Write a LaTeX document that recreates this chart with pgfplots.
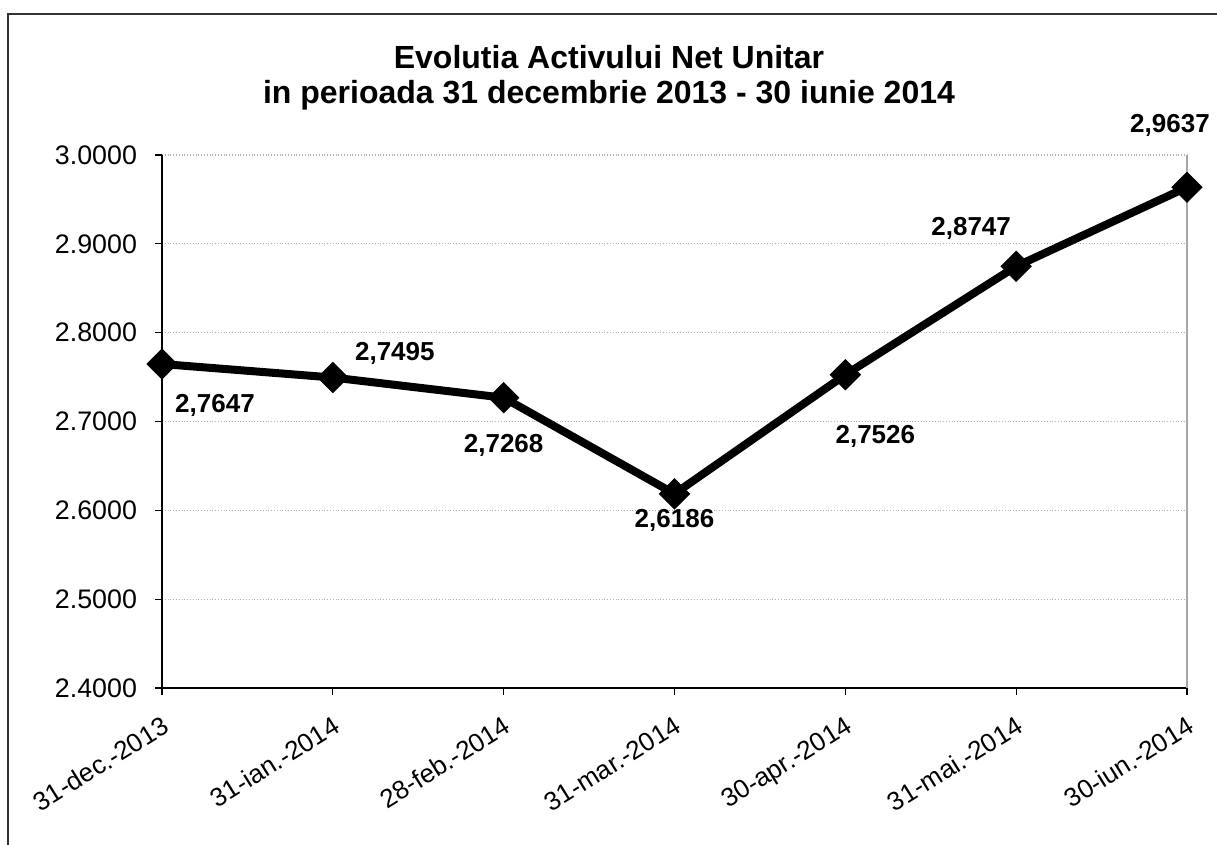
\documentclass[border=0pt]{standalone}
\usepackage{pgfplots}
\usepackage{pgfplotstable}
\pgfplotsset{compat=1.18}
\usepackage{fontspec}
\setmainfont{Liberation Sans}

\pgfplotstableread{
x y dx dy
0 2.7647 26.5 -20.5
1 2.7495 31 12
2 2.7268 0 -24
3 2.6186 0 -13.5
4 2.7526 15 -31
5 2.8747 -22.5 19
6 2.9637 -8.5 31
}\datatable

\begin{document}
\begin{tikzpicture}
\useasboundingbox (0pt,0pt) rectangle (608.5pt,422.5pt);
\draw[line width=0.6pt, black!80] (4pt,0pt) -- (4pt,415.5pt) -- (608.5pt,415.5pt);
\node[font=\fontsize{16}{17.5}\selectfont\bfseries, align=center] at (304.5pt,383.5pt)
  {Evolutia Activului Net Unitar\\in perioada 31 decembrie 2013 - 30 iunie 2014};
\begin{axis}[
  at={(81pt,78.5pt)}, anchor=south west,
  scale only axis, width=512.5pt, height=266.5pt,
  xmin=0, xmax=6, ymin=2.4, ymax=3.0,
  xtick={0,1,2,3,4,5,6},
  xticklabels={31-dec.-2013,31-ian.-2014,28-feb.-2014,31-mar.-2014,30-apr.-2014,31-mai.-2014,30-iun.-2014},
  ytick={2.4,2.5,2.6,2.7,2.8,2.9,3.0},
  /pgf/number format/assume math mode=true,
  yticklabel style={font=\fontsize{13.4}{14}\selectfont, xshift=-5.5pt, /pgf/number format/.cd, fixed, fixed zerofill, precision=4},
  xticklabel style={font=\fontsize{13}{14}\selectfont, yshift=-7pt, rotate=32, anchor=north east, inner sep=2pt},
  axis x line*=bottom, axis y line*=left,
  axis line style={black, line width=0.8pt, -},
  tick style={black, line width=0.6pt},
  tick align=outside, major tick length=3.5pt,
  ymajorgrids, grid style={gray!60, densely dotted, line width=0.6pt},
  clip=false,
]
\addplot[black, line width=4pt, mark=square*, mark size=5.3pt,
  mark options={solid, rotate=45, line width=0.5pt, fill=black},
  nodes near coords={\pgfmathprintnumber[fixed, fixed zerofill, precision=4, use comma, assume math mode=true]{\pgfplotspointmeta}},
  point meta=explicit,
  visualization depends on={\thisrow{dx} \as \dx},
  visualization depends on={\thisrow{dy} \as \dy},
  every node near coord/.append style={font=\fontsize{13}{14}\selectfont\bfseries, anchor=center, xshift=\dx pt, yshift=\dy pt, text=black},
] table[x=x, y=y, meta=y] {\datatable};
\draw[gray!70, line width=0.6pt] (rel axis cs:1,0) -- (rel axis cs:1,1);
\end{axis}
\end{tikzpicture}
\end{document}
